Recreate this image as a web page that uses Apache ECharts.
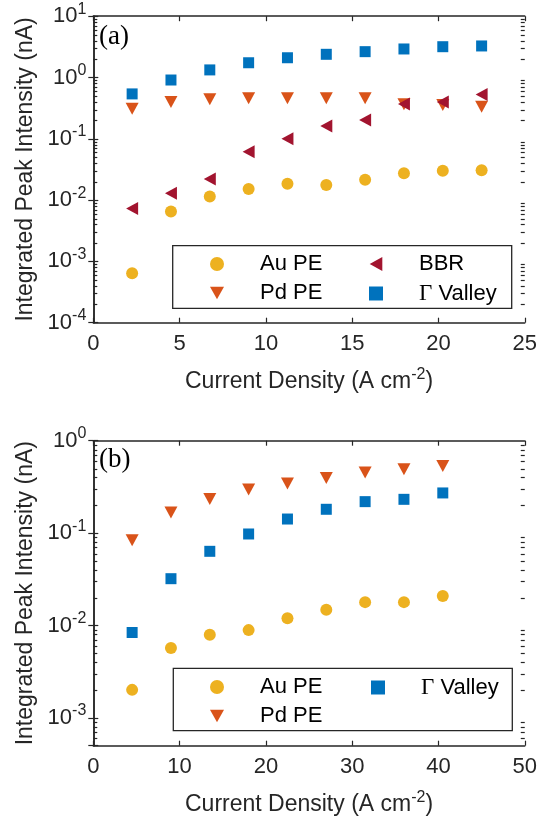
<!DOCTYPE html>
<html>
<head>
<meta charset="utf-8">
<script src="https://cdn.jsdelivr.net/npm/echarts@6/dist/echarts.min.js"></script>
<style>html,body{margin:0;padding:0;background:#fff}#c{width:540px;height:821px}</style>
</head>
<body>
<div id="c"></div>
<script>
// ---------- data (panel a) ----------
const xTop = [2.25, 4.5, 6.75, 9, 11.25, 13.5, 15.75, 18, 20.25, 22.5];
const auTop = [0.00064, 0.0065, 0.0114, 0.0152, 0.0185, 0.0176, 0.0215, 0.0274, 0.0302, 0.0306];
const pdTop = [0.31, 0.40, 0.44, 0.458, 0.46, 0.46, 0.46, 0.366, 0.356, 0.334];
const bbrTop = [0.0073, 0.0129, 0.0221, 0.0617, 0.100, 0.162, 0.203, 0.37, 0.40, 0.53];
const gvTop = [0.54, 0.91, 1.33, 1.74, 2.10, 2.39, 2.64, 2.92, 3.18, 3.27];
// ---------- data (panel b) ----------
const xBot = [4.5, 9, 13.5, 18, 22.5, 27, 31.5, 36, 40.5];
const auBot = [0.00201, 0.00569, 0.00794, 0.00891, 0.0120, 0.0148, 0.0179, 0.0179, 0.0208];
const pdBot = [0.0836, 0.167, 0.234, 0.296, 0.344, 0.395, 0.452, 0.491, 0.533];
const gvBot = [0.0084, 0.0321, 0.0635, 0.0978, 0.142, 0.181, 0.219, 0.232, 0.272];
// ---------- axes / ticks ----------
const xTopRange = [0, 25], xTopStep = 5;
const xBotRange = [0, 50], xBotStep = 10;
const yTopRange = [1e-4, 10];
const yBotRange = [5e-4, 1];
const minorMant = [2, 3, 4, 5, 6, 7, 8, 9];
const yTopDecades = [-4, -3, -2, -1, 0];
const yBotDecades = [-4, -3, -2, -1];

const C_AU = '#EDB120', C_PD = '#D95319', C_BBR = '#A2142F', C_GV = '#0072BD';
const INK = '#262626';
const FONT = '"Liberation Sans", Arial, Helvetica, sans-serif';
const SERIF = '"Liberation Serif", "Times New Roman", serif';
const SYM_DOWN = 'path://M0,0L20,0L10,18Z';
const SYM_LEFT = 'path://M18,0L18,20L0,10Z';

function minorList(decades, range) {
  const out = [];
  decades.forEach(d => minorMant.forEach(m => {
    const v = m * Math.pow(10, d);
    if (v > range[0] * 1.0001 && v < range[1] * 0.9999) out.push([1, v]);
  }));
  return out;
}
const pair = (xs, ys) => xs.map((x, i) => [x, ys[i]]);

function yLabel(v) {
  const e = Math.log10(v);
  if (Math.abs(e - Math.round(e)) > 1e-6) return '';
  return '{b|10}{s|' + Math.round(e) + '}';
}
const yRich = {
  b: { fontSize: 22, fontFamily: FONT, color: INK },
  s: { fontSize: 16, fontFamily: FONT, color: INK, padding: [0, 0, 14, 0] }
};

function xAxes(gi, range, step) {
  return [
    { gridIndex: gi, type: 'value', min: range[0], max: range[1], interval: step, position: 'bottom',
      axisLine: { onZero: false, lineStyle: { color: INK, width: 1.5 } },
      axisTick: { inside: true, length: 5, lineStyle: { color: INK, width: 1.2 } },
      splitLine: { show: false },
      axisLabel: { color: INK, fontSize: 22, fontFamily: FONT, margin: 10 },
      name: 'Current Density (A cm{s|-2})', nameLocation: 'middle', nameGap: 44,
      nameTextStyle: { color: INK, fontSize: 23, fontFamily: FONT,
        rich: { s: { fontSize: 16, fontFamily: FONT, color: INK, padding: [0, 0, 13, 0] } } } },
    { gridIndex: gi, type: 'value', min: range[0], max: range[1], interval: step, position: 'top',
      axisLine: { onZero: false, lineStyle: { color: INK, width: 1.5 } },
      axisTick: { inside: true, length: 5, lineStyle: { color: INK, width: 1.2 } },
      splitLine: { show: false }, axisLabel: { show: false } }
  ];
}
function yAxes(gi, range) {
  return [
    { gridIndex: gi, type: 'log', logBase: 10, min: range[0], max: range[1], position: 'left',
      axisLine: { show: true, lineStyle: { color: INK, width: 1.5 } },
      axisTick: { show: true, inside: true, length: 5, lineStyle: { color: INK, width: 1.2 } },
      splitLine: { show: false }, minorTick: { show: false },
      axisLabel: { formatter: yLabel, rich: yRich, margin: 7, color: INK },
      name: 'Integrated Peak Intensity (nA)', nameLocation: 'middle', nameGap: 50,
      nameTextStyle: { color: INK, fontSize: 23, fontFamily: FONT } },
    { gridIndex: gi, type: 'log', logBase: 10, min: range[0], max: range[1], position: 'right',
      axisLine: { show: true, lineStyle: { color: INK, width: 1.5 } },
      axisTick: { show: true, inside: true, length: 5, lineStyle: { color: INK, width: 1.2 } },
      splitLine: { show: false }, axisLabel: { show: false } }
  ];
}

function minorSeries(xi, yi, data, xRange) {
  return {
    type: 'custom', xAxisIndex: xi, yAxisIndex: yi, silent: true, data: data, z: 5, clip: false,
    encode: { x: 0, y: 1 },
    renderItem: function (params, api) {
      const v = api.value(1);
      const pl = api.coord([xRange[0], v]);
      const pr = api.coord([xRange[1], v]);
      const y = Math.round(pl[1]) + 0.5;
      const st = { stroke: INK, lineWidth: 1.2 };
      return { type: 'group', children: [
        { type: 'line', shape: { x1: pl[0], y1: y, x2: pl[0] + 4, y2: y }, style: st },
        { type: 'line', shape: { x1: pr[0] - 4, y1: y, x2: pr[0], y2: y }, style: st }
      ] };
    }
  };
}

function sc(name, xi, yi, data, color, symbol, size) {
  return { name: name, type: 'scatter', xAxisIndex: xi, yAxisIndex: yi, data: data,
    symbol: symbol, symbolSize: size, itemStyle: { color: color, opacity: 1 }, z: 3 };
}

const legendText = { color: '#000', fontSize: 22, fontFamily: FONT, lineHeight: 22, padding: [0, 0, 0, 31],
  rich: { g: { fontFamily: SERIF, fontSize: 23, color: '#000' } } };
const legendFmt = n => n === 'Γ Valley' ? '{g|Γ} Valley' : n;
function legend(left, top, items) {
  return { orient: 'vertical', left: left, top: top, itemWidth: 14, itemHeight: 14, itemGap: 7,
    padding: 0, selectedMode: false, textStyle: legendText, formatter: legendFmt, data: items };
}

const option = {
  animation: false,
  backgroundColor: '#fff',
  grid: [
    { left: 93.3, top: 16.2, width: 433.4, height: 306.5 },
    { left: 93.3, top: 440.7, width: 433.4, height: 305 }
  ],
  xAxis: [].concat(xAxes(0, xTopRange, xTopStep), xAxes(1, xBotRange, xBotStep)),
  yAxis: [].concat(yAxes(0, yTopRange), yAxes(1, yBotRange)),
  legend: [
    legend(210, 253, [{ name: 'Au PE', icon: 'circle' }, { name: 'Pd PE', icon: SYM_DOWN }]),
    legend(369, 253, [{ name: 'BBR', icon: SYM_LEFT }, { name: 'Γ Valley', icon: 'rect' }]),
    legend(210, 676, [{ name: 'Au PE', icon: 'circle' }, { name: 'Pd PE', icon: SYM_DOWN }]),
    legend(371, 676, [{ name: 'Γ Valley', icon: 'rect' }])
  ],
  graphic: [
    { type: 'rect', shape: { x: 172.7, y: 245.7, width: 339, height: 62.6 }, z: 1,
      style: { fill: '#fff', stroke: INK, lineWidth: 1.3 } },
    { type: 'rect', shape: { x: 173.3, y: 668.3, width: 339, height: 62.4 }, z: 1,
      style: { fill: '#fff', stroke: INK, lineWidth: 1.3 } },
    { type: 'text', left: 99, top: 23, z: 10, style: { text: '(a)', font: '27px ' + SERIF, fill: '#000' } },
    { type: 'text', left: 99, top: 446, z: 10, style: { text: '(b)', font: '27px ' + SERIF, fill: '#000' } }
  ],
  series: [
    sc('Au PE', 0, 0, pair(xTop, auTop), C_AU, 'circle', 12),
    sc('Pd PE', 0, 0, pair(xTop, pdTop), C_PD, SYM_DOWN, [13, 12]),
    sc('BBR', 0, 0, pair(xTop, bbrTop), C_BBR, SYM_LEFT, [12, 13]),
    sc('Γ Valley', 0, 0, pair(xTop, gvTop), C_GV, 'rect', 11),
    minorSeries(0, 0, minorList(yTopDecades, yTopRange), xTopRange),
    sc('Au PE', 2, 2, pair(xBot, auBot), C_AU, 'circle', 12),
    sc('Pd PE', 2, 2, pair(xBot, pdBot), C_PD, SYM_DOWN, [13, 12]),
    sc('Γ Valley', 2, 2, pair(xBot, gvBot), C_GV, 'rect', 11),
    minorSeries(2, 2, minorList(yBotDecades, yBotRange), xBotRange)
  ]
};
const chart = echarts.init(document.getElementById('c'), null, { renderer: 'canvas' });
chart.setOption(option);
</script>
</body>
</html>
